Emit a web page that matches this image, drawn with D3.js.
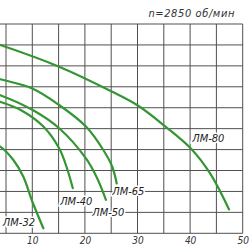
<!DOCTYPE html>
<html>
<head>
<meta charset="utf-8">
<script src="https://cdn.jsdelivr.net/npm/d3@7"></script>
<style>
  body { margin: 0; background: #fff; }
  svg { display: block; }
</style>
</head>
<body>
<div id="chart"></div>
<script>
// flow Q (m3/h) and head H (m)
var q80 = [0, 3.9, 15.1, 25.2, 30.2, 35.2, 40.1, 43.8, 47.4];
var h80 = [46.5, 45.0, 39.8, 33.8, 30.4, 25.6, 20.3, 14.3, 5.7];

var q65 = [0, 3.9, 10.0, 15.1, 20.2, 23.5, 25.2, 26.05];
var h65 = [38.0, 36.8, 34.6, 30.65, 25.5, 19.9, 15.9, 11.9];

var q50 = [0, 3.9, 10.0, 15.1, 20.2, 22.2, 24.0];
var h50 = [34.5, 33.0, 29.5, 25.1, 17.9, 13.5, 8.0];

var q40 = [0, 3.9, 7.7, 12.1, 15.1, 16.5, 17.7];
var h40 = [32.8, 31.4, 29.5, 25.5, 20.3, 15.9, 10.8];

var q32 = [0, 3.9, 6.4, 8.3, 10.0, 12.1];
var h32 = [22.5, 20.7, 17.5, 13.5, 7.6, 1.2];

var pumpNames = ["ЛМ-80", "ЛМ-65", "ЛМ-50", "ЛМ-40", "ЛМ-32"];
// where each name is written (Q, H of the text start)
var labelQ = [40.4, 25.2, 21.4, 15.3, 4.4];
var labelH = [22.8, 10.0, 5.0, 7.6, 2.7];

var xTickLabels = [10, 20, 30, 40, 50];
var title = "n=2850 об/мин";

function init() {
  var width = 250, height = 250;

  var svg = d3.select("#chart")
    .append("svg")
    .attr("width", width)
    .attr("height", height);

  var x = d3.scaleLinear().domain([0, 50]).range([-20.3, 242.7]);
  var y = d3.scaleLinear().domain([0, 50]).range([233.3, 24]);

  // grid, one line every 5 units both ways
  var grid = svg.append("g").attr("class", "grid");
  grid.selectAll(".vline")
    .data(d3.range(0, 51, 5))
    .enter()
    .append("line")
    .attr("x1", function (d) { return x(d); })
    .attr("x2", function (d) { return x(d); })
    .attr("y1", y(50))
    .attr("y2", y(0))
    .style("stroke", "#505050")
    .style("stroke-width", 1);

  grid.selectAll(".hline")
    .data(d3.range(0, 51, 5))
    .enter()
    .append("line")
    .attr("x1", x(0))
    .attr("x2", x(50))
    .attr("y1", function (d) { return y(d); })
    .attr("y2", function (d) { return y(d); })
    .style("stroke", "#505050")
    .style("stroke-width", 1);

  // x axis labels only
  var xAxis = svg.append("g")
    .attr("transform", "translate(0," + y(0) + ")")
    .call(d3.axisBottom(x).tickValues(xTickLabels).tickSize(0).tickPadding(4));
  xAxis.select(".domain").remove();
  xAxis.selectAll("text")
    .style("font-family", "'Liberation Sans Narrow', 'DejaVu Sans Condensed', sans-serif")
    .style("font-style", "italic")
    .style("font-size", "10px")
    .style("fill", "#333");

  var series = [
    { q: q80, h: h80 },
    { q: q65, h: h65 },
    { q: q50, h: h50 },
    { q: q40, h: h40 },
    { q: q32, h: h32 }
  ];

  var line = d3.line()
    .x(function (d) { return x(d[0]); })
    .y(function (d) { return y(d[1]); })
    .curve(d3.curveCatmullRom.alpha(0.5));

  svg.append("g")
    .selectAll("path")
    .data(series)
    .enter()
    .append("path")
    .attr("d", function (s) { return line(d3.zip(s.q, s.h)); })
    .style("fill", "none")
    .style("stroke", "#339633")
    .style("stroke-width", 2.2)
    .style("stroke-linecap", "round");

  // pump names, white halo hides grid behind the text
  svg.append("g")
    .selectAll("text")
    .data(pumpNames)
    .enter()
    .append("text")
    .attr("x", function (d, i) { return x(labelQ[i]); })
    .attr("y", function (d, i) { return y(labelH[i]); })
    .attr("dy", "0.35em")
    .text(function (d) { return d; })
    .style("font-family", "'Liberation Sans Narrow', 'DejaVu Sans Condensed', sans-serif")
    .style("font-style", "italic")
    .style("font-size", "11px")
    .style("fill", "#222")
    .style("stroke", "#fff")
    .style("stroke-width", 3)
    .style("paint-order", "stroke");

  svg.append("text")
    .attr("x", 235)
    .attr("y", 17)
    .attr("text-anchor", "end")
    .text(title)
    .style("font-family", "'Liberation Sans Narrow', 'DejaVu Sans Condensed', sans-serif")
    .style("font-style", "italic")
    .style("font-size", "11px")
    .style("letter-spacing", "0.6px")
    .style("fill", "#333");
}
window.onload = init;
</script>
</body>
</html>
